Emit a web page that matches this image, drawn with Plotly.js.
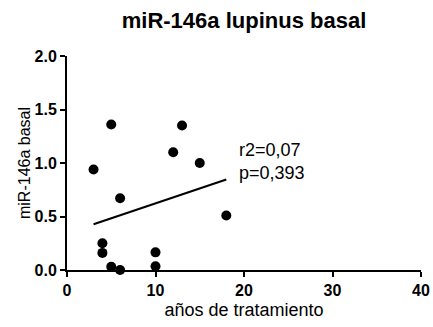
<!DOCTYPE html>
<html>
<head>
<meta charset="utf-8">
<script src="https://cdn.plot.ly/plotly-3.0.1.min.js"></script>
<style>html,body{margin:0;padding:0;background:#fff;}#chart{width:433px;height:327px;}</style>
</head>
<body>
<div id="chart"></div>
<script>
// Data
const yearsTreatment = [3, 5, 13, 12, 15, 6, 4, 4, 5, 6, 10, 10, 18];
const mir146aBasal   = [0.94, 1.36, 1.35, 1.10, 1.00, 0.67, 0.25, 0.16, 0.03, 0.00, 0.165, 0.035, 0.51];
const statsText = ["r2=0,07", "p=0,393"];
const xTicks = [0, 10, 20, 30, 40];
const yTicks = [0, 0.5, 1.0, 1.5, 2.0];

// Linear regression from the data
const n = yearsTreatment.length;
const mx = yearsTreatment.reduce((a,b)=>a+b,0)/n;
const my = mir146aBasal.reduce((a,b)=>a+b,0)/n;
let sxy = 0, sxx = 0;
for (let i=0;i<n;i++){ sxy += (yearsTreatment[i]-mx)*(mir146aBasal[i]-my); sxx += (yearsTreatment[i]-mx)**2; }
const slope = sxy/sxx, intercept = my - slope*mx;
const xFit = [Math.min(...yearsTreatment), Math.max(...yearsTreatment)];
const yFit = xFit.map(x => intercept + slope*x);

const FONT = "Liberation Sans, Arial, sans-serif";

const traces = [
  {x: yearsTreatment, y: mir146aBasal, type: 'scatter', mode: 'markers',
   marker: {color: '#000', size: 10}, cliponaxis: false, hoverinfo: 'skip'},
  {x: xFit, y: yFit, type: 'scatter', mode: 'lines',
   line: {color: '#000', width: 2}, cliponaxis: false, hoverinfo: 'skip'}
];

const layout = {
  width: 433, height: 327,
  margin: {l: 67, r: 12, t: 56, b: 57},
  paper_bgcolor: '#fff', plot_bgcolor: '#fff',
  showlegend: false,
  font: {family: FONT, color: '#000'},
  title: {text: 'miR-146a lupinus basal', font: {family: FONT, size: 22, weight: 'bold', color: '#000'},
          x: 0.5635, xanchor: 'center', y: 0.938, yanchor: 'middle'},
  xaxis: {range: [0, 40], tickvals: xTicks, ticktext: xTicks.map(String),
          showline: true, linecolor: '#000', linewidth: 2,
          ticks: 'outside', ticklen: 5, tickwidth: 2, tickcolor: '#000',
          showgrid: false, zeroline: false,
          tickfont: {family: FONT, size: 16, weight: 'bold', color: '#000'},
          title: {text: 'años de tratamiento', font: {family: FONT, size: 18, color: '#000'}, standoff: 5}},
  yaxis: {range: [0, 2], tickvals: yTicks, ticktext: yTicks.map(v => v.toFixed(1)),
          showline: true, linecolor: '#000', linewidth: 2,
          ticks: 'outside', ticklen: 5, tickwidth: 2, tickcolor: '#000',
          showgrid: false, zeroline: false,
          tickfont: {family: FONT, size: 16, weight: 'bold', color: '#000'},
          title: {text: 'miR-146a basal', font: {family: FONT, size: 16, color: '#000'}, standoff: 0}},
  annotations: [{x: 19.2, y: 1.01, xref: 'x', yref: 'y', text: statsText.join('<br>'),
                 showarrow: false, xanchor: 'left', yanchor: 'middle', align: 'left',
                 font: {family: FONT, size: 18, color: '#000'}}]
};

Plotly.newPlot('chart', traces, layout, {displayModeBar: false, staticPlot: true});
</script>
</body>
</html>
